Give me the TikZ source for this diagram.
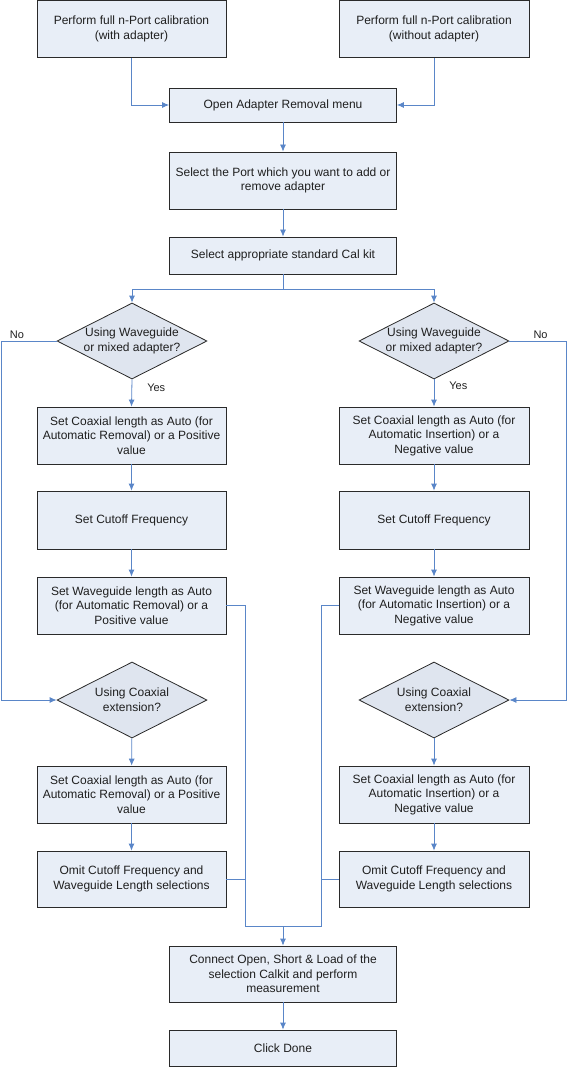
\documentclass[tikz,border=0pt]{standalone}
\usepackage{fontspec}
\setmainfont{Liberation Sans}
\usetikzlibrary{positioning,arrows.meta,shapes.geometric,shadows}
\definecolor{boxfill}{HTML}{E8EEF7}
\definecolor{decfill}{HTML}{DFE5EF}
\definecolor{lnk}{HTML}{5A86C8}
\definecolor{bordergray}{HTML}{2A2A2A}
\tikzset{
  every picture/.style={line width=0.8pt},
  blk/.style={draw=bordergray,fill=boxfill,rectangle,minimum height=57pt,minimum width=189pt,align=center,inner sep=2pt,
    text=black!88,font=\fontsize{12}{14.6}\selectfont,
    drop shadow={shadow xshift=0.9pt,shadow yshift=-0.9pt,fill=black!40,opacity=1}},
  dec/.style={draw=bordergray,fill=decfill,diamond,aspect=2,minimum width=150pt,minimum height=76pt,inner sep=0pt,align=center,
    text=black!88,font=\fontsize{12}{14.6}\selectfont},
  lbl/.style={font=\fontsize{11}{13}\selectfont,inner sep=1pt,text=black!88},
  flow/.style={-{Latex[length=7pt,width=6pt]},draw=lnk,line width=0.8pt},
  wire/.style={draw=lnk,line width=0.8pt},
}

\begin{document}
\begin{tikzpicture}[x=1pt,y=-1pt]
\useasboundingbox (0,0) rectangle (567,1067);
% calibration and menu
\node[blk] (CALA) at (131.5,29) {Perform full n-Port calibration\\(with adapter)};
\node[blk,minimum width=190pt] (CALB) at (434,29) {Perform full n-Port calibration\\(without adapter)};
\node[blk,minimum width=227pt,minimum height=34pt] (OPEN) at (283,105) {Open Adapter Removal menu};
\node[blk,minimum width=227pt] (PORT) at (283,180.5) {Select the Port which you want to add or\\remove adapter};
\node[blk,minimum width=227pt,minimum height=37pt] (KIT) at (283,255.5) {Select appropriate standard Cal kit};
\coordinate (SPLIT) at (283,289);
\draw[flow] (CALA.south) |- (OPEN.west);
\draw[flow] (CALB.south) |- (OPEN.east);
\draw[flow] (OPEN.south) -- (PORT.north);
\draw[flow] (PORT.south) -- (KIT.north);
% removal branch
\node[dec] (WQL) at (132,341) {Using Waveguide\\or mixed adapter?};
\node[blk] (CXL) at (131.5,435.5) {Set Coaxial length as Auto (for\\Automatic Removal) or a Positive\\value};
\node[blk,minimum height=58pt] (CUTL) at (131.5,520) {Set Cutoff Frequency};
\node[blk] (WGL) at (131.5,605.5) {Set Waveguide length as Auto\\(for Automatic Removal) or a\\Positive value};
\node[dec] (CQL) at (132,700) {Using Coaxial\\extension?};
\node[blk] (CX2L) at (131.5,794.5) {Set Coaxial length as Auto (for\\Automatic Removal) or a Positive\\value};
\node[blk,minimum height=56pt] (OMTL) at (131.5,879) {Omit Cutoff Frequency and\\Waveguide Length selections};
% insertion branch
\node[dec] (WQR) at (434,341) {Using Waveguide\\or mixed adapter?};
\node[blk,minimum width=190pt] (CXR) at (434,435.5) {Set Coaxial length as Auto (for\\Automatic Insertion) or a\\Negative value};
\node[blk,minimum width=190pt,minimum height=58pt] (CUTR) at (434,520) {Set Cutoff Frequency};
\node[blk,minimum width=190pt] (WGR) at (434,605.5) {Set Waveguide length as Auto\\(for Automatic Insertion) or a\\Negative value};
\node[dec] (CQR) at (434,700) {Using Coaxial\\extension?};
\node[blk,minimum width=190pt] (CX2R) at (434,794.5) {Set Coaxial length as Auto (for\\Automatic Insertion) or a\\Negative value};
\node[blk,minimum width=190pt,minimum height=56pt] (OMTR) at (434,879) {Omit Cutoff Frequency and\\Waveguide Length selections};
% split
\draw[wire] (KIT.south) -- (SPLIT);
\draw[flow] (SPLIT) -| (WQL.north);
\draw[flow] (SPLIT) -| (WQR.north);
\coordinate (NOL) at (1.5,341);
\coordinate (NOR) at (566,341);
\draw[flow] (WQL.south) -- node[lbl,pos=0.3,right=14pt]{Yes} (CXL.north);
\draw[flow] (WQR.south) -- node[lbl,pos=0.25,right=14pt]{Yes} (CXR.north);
\draw[flow] (WQL.west) -- node[lbl,pos=0.72,above=1pt]{No} (NOL) |- (CQL.west);
\draw[flow] (WQR.east) -- node[lbl,pos=0.55,above=1pt]{No} (NOR) |- (CQR.east);
\draw[flow] (CXL) -- (CUTL);
\draw[flow] (CUTL) -- (WGL);
\draw[flow] (CQL) -- (CX2L);
\draw[flow] (CX2L) -- (OMTL);
\draw[flow] (CXR) -- (CUTR);
\draw[flow] (CUTR) -- (WGR);
\draw[flow] (CQR) -- (CX2R);
\draw[flow] (CX2R) -- (OMTR);
% measurement
\node[blk,minimum width=227pt,minimum height=56pt] (CONN) at (283,974) {Connect Open, Short \& Load of the\\selection Calkit and perform\\measurement};
\node[blk,minimum width=227pt,minimum height=36pt] (DONE) at (283,1048) {Click Done};
\coordinate (JL) at (245,926);
\coordinate (JR) at (321,926);
\draw[wire] (WGL.east) -| (JL) -- (JR) |- (WGR.west);
\draw[wire] (OMTL.east) -- (OMTL.east -| JL);
\draw[wire] (OMTR.west) -- (OMTR.west -| JR);
\draw[flow] (CONN.north |- JL) -- (CONN.north);
\draw[flow] (CONN.south) -- (DONE.north);
\end{tikzpicture}
\end{document}
